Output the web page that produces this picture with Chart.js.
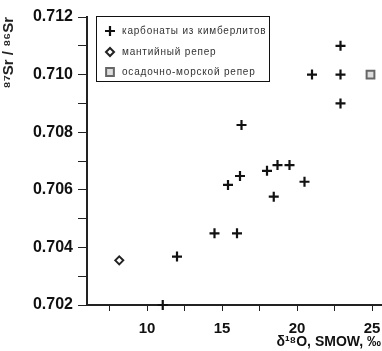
<!DOCTYPE html>
<html>
<head>
<meta charset="utf-8">
<script src="https://cdn.jsdelivr.net/npm/chart.js@4.4.1/dist/chart.umd.min.js"></script>
<style>
  html, body { margin: 0; padding: 0; background: #fff; }
  #wrap { width: 382px; height: 351px; position: relative; }
</style>
</head>
<body>
<div id="wrap"><canvas id="c" width="382" height="351"></canvas></div>
<script>
// ---- data ----
const seriesLabels = ['карбонаты из кимберлитов', 'мантийный репер', 'осадочно-морской репер'];
const carbX = [22.9, 21.0, 22.9, 22.9, 16.3, 15.4, 16.2, 18.0, 18.7, 19.5, 20.5, 18.45, 14.5, 16.0, 12.0, 11.05];
const carbY = [0.7110, 0.7100, 0.7100, 0.7090, 0.70825, 0.70617, 0.70648, 0.70666, 0.70686, 0.70686, 0.70628, 0.70576, 0.70449, 0.70449, 0.70368, 0.7020];
const mantleX = [8.15];
const mantleY = [0.70355];
const sedX = [24.9];
const sedY = [0.7100];
const xTicks = [7.5, 10, 12.5, 15, 17.5, 20, 22.5, 25];
const xLabelTicks = [10, 15, 20, 25];
const yTicks = [0.702, 0.703, 0.704, 0.705, 0.706, 0.707, 0.708, 0.709, 0.710, 0.711, 0.712];
const yLabelTicks = [0.702, 0.704, 0.706, 0.708, 0.710, 0.712];
const xTitle = 'δ¹⁸O, SMOW, ‰';
const yTitle = '⁸⁷Sr / ⁸⁶Sr';

const pts = (xs, ys) => xs.map((x, i) => ({ x: x, y: ys[i] }));

const FONT = "'Liberation Sans', Arial, sans-serif";

const legendBox = {
  id: 'legendBox',
  afterDraw(chart) {
    const ctx = chart.ctx;
    ctx.save();
    ctx.strokeStyle = '#111';
    ctx.lineWidth = 1;
    ctx.strokeRect(96.5, 16.5, 173, 65);
    const ys = [31, 52, 72];
    chart.data.datasets.forEach((ds, i) => {
      ctx.fillStyle = ds.backgroundColor;
      ctx.strokeStyle = ds.borderColor;
      ctx.lineWidth = ds.borderWidth;
      Chart.helpers.drawPoint(ctx, {
        pointStyle: ds.pointStyle,
        radius: ds.pointRadius,
        borderWidth: ds.borderWidth,
        rotation: 0
      }, 110, ys[i]);
      ctx.fillStyle = '#333';
      ctx.font = '10px ' + FONT;
      try { ctx.letterSpacing = '0.8px'; } catch (e) {}
      ctx.textBaseline = 'middle';
      ctx.textAlign = 'left';
      ctx.fillText(ds.label, 122, ys[i] + 0.5);
    });
    ctx.restore();
  }
};

new Chart(document.getElementById('c'), {
  type: 'scatter',
  data: {
    datasets: [
      {
        label: seriesLabels[0],
        data: pts(carbX, carbY),
        pointStyle: 'cross',
        pointRadius: 5,
        borderWidth: 2.2,
        borderColor: '#111',
        backgroundColor: '#111',
        clip: false
      },
      {
        label: seriesLabels[1],
        data: pts(mantleX, mantleY),
        pointStyle: 'rectRot',
        pointRadius: 4,
        borderWidth: 2,
        borderColor: '#222',
        backgroundColor: '#fff',
        clip: false
      },
      {
        label: seriesLabels[2],
        data: pts(sedX, sedY),
        pointStyle: 'rect',
        pointRadius: 5.5,
        borderWidth: 2,
        borderColor: '#666',
        backgroundColor: '#ddd',
        clip: false
      }
    ]
  },
  options: {
    responsive: false,
    animation: false,
    devicePixelRatio: 1,
    layout: { autoPadding: false, padding: { top: 17, right: 1, left: 0, bottom: 0 } },
    plugins: {
      legend: { display: false },
      tooltip: { enabled: false }
    },
    scales: {
      x: {
        type: 'linear',
        min: 6,
        max: 25.6,
        afterBuildTicks: (s) => { s.ticks = xTicks.map(v => ({ value: v })); },
        afterFit: (s) => { s.height = 46; s.paddingLeft = 0; s.paddingRight = 0; },
        ticks: {
          autoSkip: false,
          maxRotation: 0,
          padding: 9,
          color: '#111',
          font: { family: FONT, size: 15, weight: 'bold' },
          callback: (v) => xLabelTicks.includes(v) ? String(v) : ''
        },
        grid: {
          drawOnChartArea: false,
          drawTicks: true,
          tickLength: 6,
          color: '#222',
          lineWidth: 1
        },
        border: { display: true, color: '#222', width: 2 },
        title: {
          display: true,
          text: xTitle,
          align: 'end',
          color: '#111',
          font: { family: FONT, size: 14, weight: 'bold' },
          padding: { top: 0, bottom: 0 }
        }
      },
      y: {
        type: 'linear',
        min: 0.702,
        max: 0.712,
        afterBuildTicks: (s) => { s.ticks = yTicks.map(v => ({ value: v })); },
        afterFit: (s) => { s.width = 87; },
        ticks: {
          autoSkip: false,
          padding: 5,
          color: '#111',
          font: { family: FONT, size: 16, weight: 'bold' },
          callback: (v) => yLabelTicks.some(t => Math.abs(t - v) < 1e-9) ? v.toFixed(3) : ''
        },
        grid: {
          drawOnChartArea: false,
          drawTicks: true,
          tickLength: 9,
          color: '#222',
          lineWidth: 1
        },
        border: { display: true, color: '#222', width: 2 },
        title: {
          display: true,
          text: yTitle,
          align: 'end',
          color: '#222',
          font: { family: FONT, size: 15, weight: 'bold' },
          padding: { top: 0, bottom: 0 }
        }
      }
    }
  },
  plugins: [legendBox]
});
</script>
</body>
</html>
